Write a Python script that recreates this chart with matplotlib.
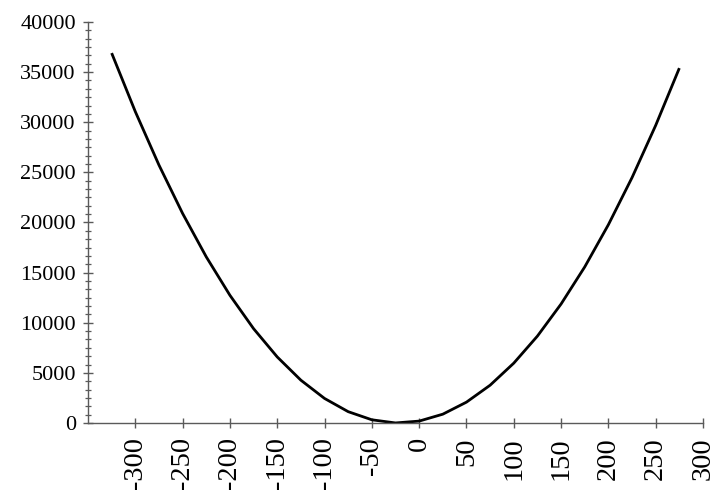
import matplotlib
matplotlib.use("Agg")
import matplotlib.pyplot as plt
from matplotlib.ticker import AutoMinorLocator

# Data
x_vals = [-325, -300, -275, -250, -225, -200, -175, -150, -125, -100, -75, -50,
          -25, 0, 25, 50, 75, 100, 125, 150, 175, 200, 225, 250, 275]
y_vals = [36900, 31060, 25730, 20900, 16570, 12740, 9410, 6590, 4270, 2450, 1130, 320,
          5, 190, 880, 2080, 3770, 5970, 8670, 11870, 15570, 19780, 24480, 29690, 35400]

x_ticks = [-300, -250, -200, -150, -100, -50, 0, 50, 100, 150, 200, 250, 300]
y_ticks = [0, 5000, 10000, 15000, 20000, 25000, 30000, 35000, 40000]

fig = plt.figure(figsize=(7.15, 4.95), dpi=100)
ax = fig.add_axes([88/715, 1 - 423/495, (703 - 88)/715, (423 - 22)/495])

ax.plot(x_vals, y_vals, color="black", linewidth=2.0, solid_capstyle="butt",
        solid_joinstyle="round")

ax.set_xlim(-350, 300)
ax.set_ylim(0, 40000)
ax.set_xticks(x_ticks)
ax.set_yticks(y_ticks)
ax.set_xticklabels([str(v) for v in x_ticks], rotation=90, fontsize=20.5,
                   family="Liberation Serif")
ax.set_yticklabels([str(v) for v in y_ticks], fontsize=16,
                   family="Liberation Serif")
ax.yaxis.set_minor_locator(AutoMinorLocator(6))

for s in ["top", "right"]:
    ax.spines[s].set_visible(False)
axis_col = "#5a5a5a"
for s in ["left", "bottom"]:
    ax.spines[s].set_color(axis_col)
    ax.spines[s].set_linewidth(1.0)

ax.tick_params(axis="both", which="major", direction="inout", length=7.5,
               width=1.0, color=axis_col, labelcolor="black")
ax.tick_params(axis="y", which="minor", direction="inout", length=4.5,
               width=0.9, color=axis_col)
ax.tick_params(axis="x", which="major", pad=6.5)
ax.tick_params(axis="y", which="major", pad=5)

fig.savefig("out.png", dpi=100)
